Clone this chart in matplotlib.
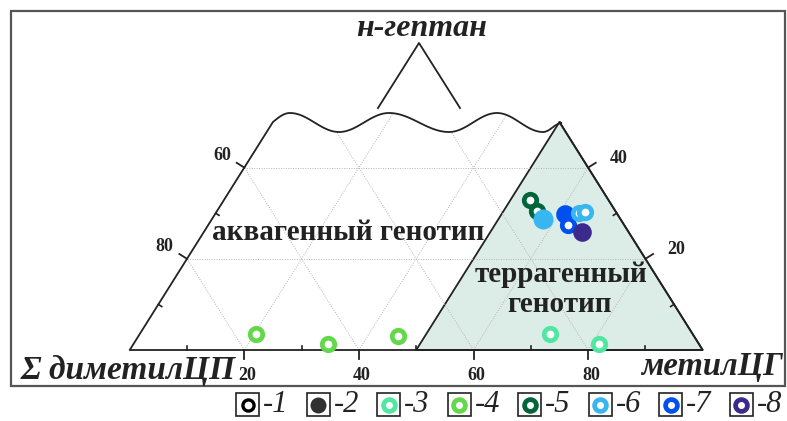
import numpy as np
import matplotlib.pyplot as plt
from matplotlib.patches import Polygon, Rectangle

# ternary data: m = метилЦГ (%), h = н-гептан (%)
s3_m, s3_h = [71.6, 81.3], [3.4, 1.3]
s4_m, s4_h = [20.3, 33.9, 45.2], [3.4, 1.3, 3.1]
s5_m, s5_h = [53.4, 55.8], [32.9, 30.5]
s6_m, s6_h = [57.8, 63.4, 64.3], [28.7, 30.0, 30.3]
s7_m, s7_h = [61.1, 62.8], [29.8, 27.4]
s8_m, s8_h = [65.9], [25.9]

colors = ['black', '#303030', '#50e8a0', '#62d84a', '#00663a', '#38b6f0', '#0050f0', '#3c2a8c']
legend_labels = ['-1', '-2', '-3', '-4', '-5', '-6', '-7', '-8']
ticks = [20, 40, 60, 80]

W, H = 787, 421
SX, SY = 5.73, 4.56      # px per unit (horizontal, heptane)
X0, Y0 = 129.7, 350.0    # pixel of the bottom-left corner
SERIF = 'Liberation Serif'
INK = '#222222'


def tern(m, h):
    m, h = np.asarray(m, float), np.asarray(h, float)
    return m + h / 2, h


def px(x, y):
    return (x - X0) / SX, (Y0 - y) / SY


fig = plt.figure(figsize=(W / 100, H / 100), dpi=100)
ax = fig.add_axes([0, 0, 1, 1])
ax.set_xlim(-X0 / SX, (W - X0) / SX)
ax.set_ylim(-(H - Y0) / SY, Y0 / SY)
ax.axis('off')

# frame
fx0, fy0 = px(11, 386)
fx1, fy1 = px(785, 11)
ax.add_patch(Rectangle((fx0, fy0), fx1 - fx0, fy1 - fy0, fill=False,
                       ec='#555555', lw=1.6, clip_on=False))

# wavy top of the truncated triangle (pixel key points)
key = [(273, 122), (290, 113), (339, 132), (389, 113), (449, 132),
       (497, 113), (543, 132), (562, 123)]
wx, wy = [], []
for k, ((xa, ya), (xb, yb)) in enumerate(zip(key[:-1], key[1:])):
    t = np.linspace(0, 1, 30)
    ease = np.sin(np.pi * t / 2) if k == 0 else (1 - np.cos(np.pi * t)) / 2
    wx += list(xa + (xb - xa) * t)
    wy += list(ya + (yb - ya) * ease)
wave = np.array([px(a, b) for a, b in zip(wx, wy)])
wave[0] = tern(0, wave[0][1])
wave[-1] = tern(50, 50)

outline = np.vstack([[0, 0], [100, 0], wave[::-1]])

# terrigenous field
ax.add_patch(Polygon([tern(50, 0), tern(100, 0), tern(50, 50)], closed=True,
                     fc='#dcece7', ec=INK, lw=1.3, zorder=1))

clip = Polygon(outline, closed=True, fc='none', ec='none')
ax.add_patch(clip)

# grid
for v in ticks:
    lines = [(tern([v, v], [0, 100 - v])),
             (tern([100 - v, 0], [0, 100 - v])),
             (tern([0, 100 - v], [v, v]))]
    for gx, gy in lines:
        ln, = ax.plot(gx, gy, ls=(0, (1, 1.5)), color='#b5b5b5', lw=0.7, zorder=2)
        ln.set_clip_path(clip)

ax.add_patch(Polygon(outline, closed=True, fc='none', ec=INK, lw=1.3,
                     joinstyle='round', zorder=3))

# apex symbol for н-гептан
ax.plot(*zip(px(378, 108), px(419, 43), px(460, 108)), color=INK, lw=1.3)
ax.text(*px(422, 29), 'н-гептан', family=SERIF, weight='bold', style='italic',
        fontsize=23, ha='center', va='center', color=INK)

# ticks
L = 9.0
nl = np.array([-0.847, 0.532])
nr = np.array([0.847, 0.532])
for v in ticks:
    bx, by = tern(v, 0)
    ax.plot([bx, bx], [by, by - L / SY], color=INK, lw=1.3)
    ax.text(bx + 0.5, -5.5, str(v), family=SERIF, weight='bold', fontsize=13,
            ha='center', va='center', color=INK)
for v in [10, 30, 50, 70, 90]:
    bx, by = tern(v, 0)
    ax.plot([bx, bx], [by, by + 4 / SY], color=INK, lw=1.2)
# left side: ΣдиметилЦП 60, 80
for d in [60, 80]:
    sx, sy = tern(0, 100 - d)
    ax.plot([sx, sx + nl[0] * L / SX], [sy, sy + nl[1] * L / SY], color=INK, lw=1.3)
    ax.text(sx - 3.9, sy + 2.7, str(d), family=SERIF, weight='bold', fontsize=13,
            ha='center', va='center', color=INK)
for d in [70, 90]:
    sx, sy = tern(0, 100 - d)
    ax.plot([sx, sx - nl[0] * 4 / SX], [sy, sy - nl[1] * 4 / SY], color=INK, lw=1.2)
# right side: н-гептан 20, 40
for h in [20, 40]:
    sx, sy = tern(100 - h, h)
    ax.plot([sx, sx + nr[0] * L / SX], [sy, sy + nr[1] * L / SY], color=INK, lw=1.3)
    ax.text(sx + 5.3, sy + 2.0, str(h), family=SERIF, weight='bold', fontsize=13,
            ha='center', va='center', color=INK)
for h in [10, 30]:
    sx, sy = tern(100 - h, h)
    ax.plot([sx, sx - nr[0] * 4 / SX], [sy, sy - nr[1] * 4 / SY], color=INK, lw=1.2)

# axis names
ax.text(*px(21, 371), 'Σ диметилЦП', family=SERIF, weight='bold', style='italic',
        fontsize=24, ha='left', va='center', color=INK)
ax.text(*px(783, 367), 'метилЦГ', family=SERIF, weight='bold', style='italic',
        fontsize=23.5, ha='right', va='center', color=INK)

# field names
ax.text(*px(348, 232), 'аквагенный генотип', family=SERIF, weight='bold',
        fontsize=21, ha='center', va='center', color=INK, zorder=4)
ax.text(*px(561, 275), 'террагенный', family=SERIF, weight='bold',
        fontsize=21, ha='center', va='center', color=INK, zorder=4)
ax.text(*px(560, 305), 'генотип', family=SERIF, weight='bold',
        fontsize=21, ha='center', va='center', color=INK, zorder=4)

# points
ring = dict(marker='o', ls='none', ms=9, mew=3.4, mfc='white', zorder=5)
ax.plot(*tern(s4_m, s4_h), mec=colors[3], **ring)
ax.plot(*tern(s3_m, s3_h), mec=colors[2], **ring)
ax.plot(*tern(s5_m, s5_h), mec=colors[4], **ring)
x6, y6 = tern(s6_m, s6_h)
ax.plot(x6[:1], y6[:1], mec=colors[5], **{**ring, 'mfc': colors[5], 'ms': 11})
x7, y7 = tern(s7_m, s7_h)
ax.plot(x7[:1], y7[:1], mec=colors[6], **{**ring, 'mfc': colors[6], 'ms': 10})
ax.plot(x7[1:], y7[1:], mec=colors[6], **ring)
ax.plot(x6[1:], y6[1:], mec=colors[5], **ring)
ax.plot(*tern(s8_m, s8_h), mec=colors[7], **{**ring, 'mfc': colors[7], 'ms': 10})

# legend row
step = 70.5
for i, (c, lab) in enumerate(zip(colors, legend_labels)):
    bx = 236 + i * step
    rx0, ry0 = px(bx, 416)
    rx1, ry1 = px(bx + 23, 393)
    ax.add_patch(Rectangle((rx0, ry0), rx1 - rx0, ry1 - ry0, fill=False,
                           ec=INK, lw=1.2, clip_on=False))
    cx, cy = px(bx + 11.5, 404.5)
    if i == 0:
        ax.plot(cx, cy, marker='o', ms=8, mew=2.4, mec=c, mfc='white', clip_on=False)
    elif i == 1:
        ax.plot(cx, cy, marker='o', ms=11.5, mew=0, mfc=c, clip_on=False)
    else:
        ax.plot(cx, cy, marker='o', ms=8.5, mew=3.4, mec=c, mfc='white', clip_on=False)
    ax.text(*px(bx + 27, 404), lab, family=SERIF, style='italic', fontsize=22,
            ha='left', va='center', color=INK)

fig.savefig('out.png', dpi=100)
